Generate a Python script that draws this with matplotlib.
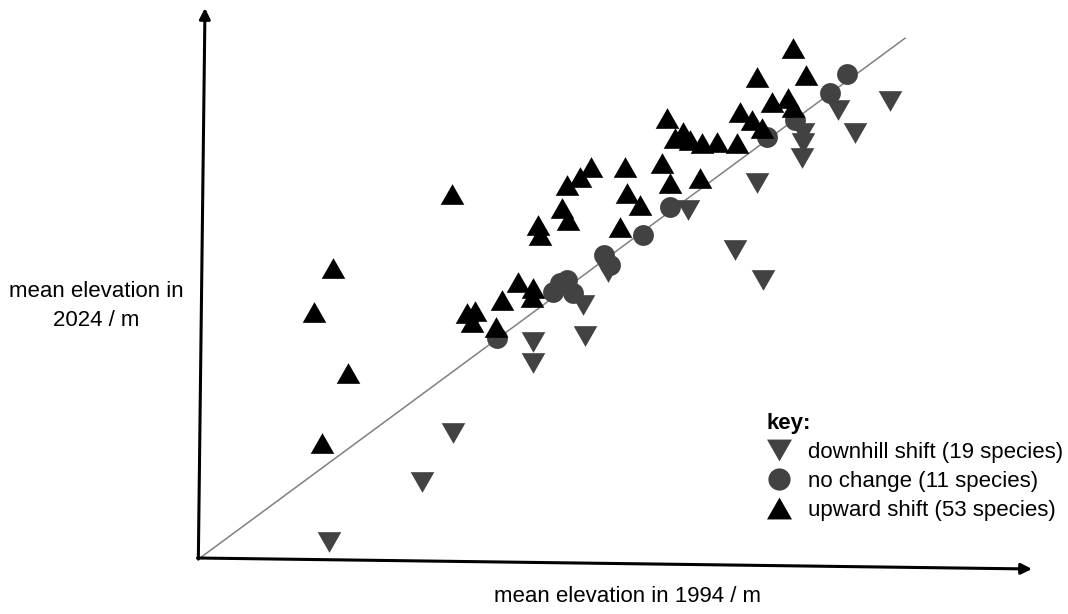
import matplotlib.pyplot as plt
from matplotlib.lines import Line2D
from matplotlib.path import Path

plt.rcParams['font.family'] = ['Liberation Sans', 'DejaVu Sans']

# mean elevation of each species, 1994 (x) against 2024 (y)
up_x = [266, 228, 296, 244, 504, 534, 550, 544, 604, 636, 666, 664, 592,
        676, 680, 724, 736, 734, 782, 850, 854, 880, 840, 924, 940, 934,
        966, 1004, 1034, 1074, 1000, 1080, 1104, 1124, 1144, 1176, 1186,
        1114, 1212, 1186, 760, 980, 950]
up_y = [787, 667, 502, 312, 987, 664, 670, 640, 700, 749, 732, 708, 626,
        903, 876, 949, 917, 1012, 1060, 1060, 990, 957, 898, 1071, 1017, 1193,
        1155, 1125, 1128, 1125, 1031, 1210, 1188, 1166, 1237, 1248, 1223,
        1304, 1310, 1383, 1033, 1134, 1140]

same_x = [594, 706, 720, 734, 746, 808, 820, 886, 940, 1134, 1190, 1260, 1294]
same_y = [597, 721, 746, 754, 719, 822, 795, 876, 952, 1142, 1188, 1261, 1313]

down_x = [258, 444, 506, 666, 666, 770, 766, 816, 976, 1070, 1126, 1114,
          1206, 1206, 1204, 1276, 1310, 1380]
down_y = [43, 206, 339, 586, 529, 602, 686, 776, 944, 835, 754, 1017,
          1153, 1125, 1085, 1215, 1153, 1239]

labels = ["downhill shift (19 species)", "no change (11 species)",
          "upward shift (53 species)"]

# slightly squat triangles, like in the original
tri_up = Path([(0, 0.875), (-1, -0.875), (1, -0.875), (0, 0.875)])
tri_down = Path([(0, -0.875), (-1, 0.875), (1, 0.875), (0, -0.875)])
grey = "#424242"

fig = plt.figure(figsize=(10.68, 6.14), dpi=100)
ax = fig.add_axes([200/1068, 1 - 558/614, 832/1068, 550/614])
ax.set_xlim(0, 1664)
ax.set_ylim(0, 1492)

# 1:1 line
ax.plot([0, 1410], [0, 1410], color="#808080", linewidth=1.1, zorder=1)

ax.scatter(same_x, same_y, marker="o", s=15**2, color=grey, linewidths=0, zorder=2)
ax.scatter(down_x, down_y, marker=tri_down, s=17**2, color=grey, linewidths=0, zorder=2)
ax.scatter(up_x, up_y, marker=tri_up, s=17**2, color="black", linewidths=0, zorder=3)

# no frame, just two arrows
for s in ax.spines.values():
    s.set_visible(False)
ax.set_xticks([])
ax.set_yticks([])
arrow = dict(arrowstyle="-|>", color="black", lw=2.2, mutation_scale=16,
             shrinkA=0, shrinkB=0)
ax.annotate("", xy=(1.0, -0.02), xytext=(-0.003, 0), xycoords="axes fraction",
            textcoords="axes fraction", arrowprops=arrow, annotation_clip=False)
ax.annotate("", xy=(0.006, 1.0), xytext=(-0.002, -0.002), xycoords="axes fraction",
            textcoords="axes fraction", arrowprops=arrow, annotation_clip=False)

fig.text(628/1068, 1 - 596/614, "mean elevation in 1994 / m", ha="center",
         va="center", fontsize=16)
fig.text(96/1068, 1 - 306/614, "mean elevation in\n2024 / m", ha="center",
         va="center", multialignment="center", fontsize=16, linespacing=1.45)

# key
handles = [Line2D([], [], linestyle="none", marker=tri_down, markersize=18,
                  color=grey, markeredgewidth=0),
           Line2D([], [], linestyle="none", marker="o", markersize=16,
                  color=grey, markeredgewidth=0),
           Line2D([], [], linestyle="none", marker=tri_up, markersize=18,
                  color="black", markeredgewidth=0)]
leg = ax.legend(handles, labels, title="key:", loc="upper left",
                bbox_to_anchor=(766/1068, 1 - 413/614), bbox_transform=fig.transFigure,
                frameon=False, fontsize=16, title_fontsize=16,
                alignment="left", handlelength=1.2, handletextpad=0.68,
                labelspacing=0.36, borderpad=0, borderaxespad=0)
leg.get_title().set_fontweight("bold")

fig.savefig("out.png", dpi=100)
